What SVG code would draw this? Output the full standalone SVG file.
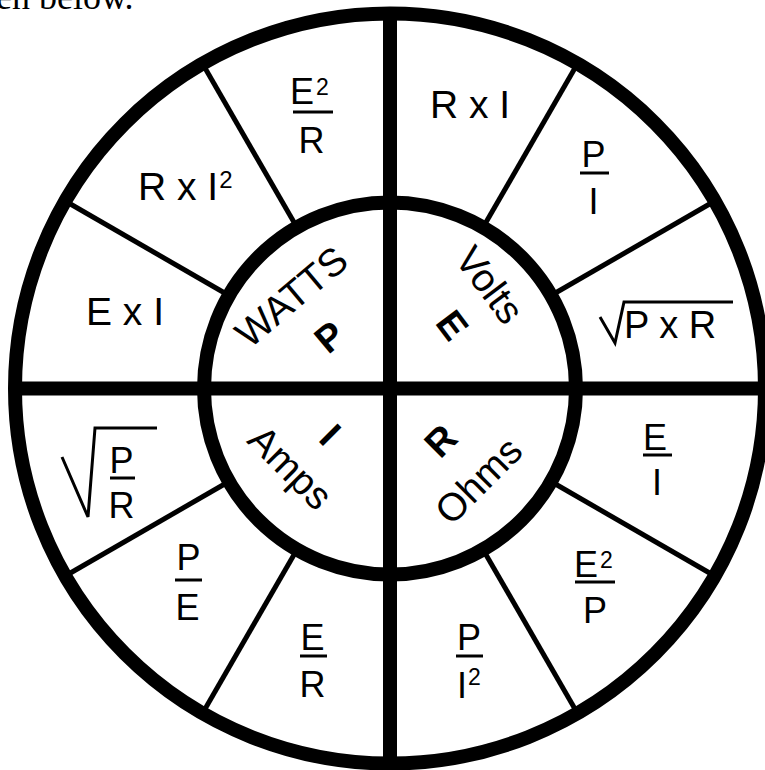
<svg xmlns="http://www.w3.org/2000/svg" width="765" height="770" viewBox="0 0 765 770">
<style>
.t{font-family:"Liberation Sans",Arial,sans-serif;fill:#000}
.f{font-size:36px;text-anchor:middle}
.b{font-weight:bold;font-size:38px;text-anchor:middle}
.l{font-size:39px;text-anchor:middle}
.thick{stroke:#000;stroke-width:14;fill:none}
.thin{stroke:#000;stroke-width:5;fill:none}
.bar{stroke:#000;stroke-width:3;fill:none}
</style>
<rect width="765" height="770" fill="#fff"/>
<text x="-4" y="9" style="font-family:'Liberation Serif','Times New Roman',serif;font-size:36px">en below.</text>
<g id="connectors">
<line class="thin" x1="554.5" y1="293.5" x2="712.2" y2="202.5"/>
<line class="thin" x1="485" y1="224" x2="576" y2="66.3"/>
<line class="thin" x1="295" y1="224" x2="204" y2="66.3"/>
<line class="thin" x1="225.5" y1="293.5" x2="67.8" y2="202.5"/>
<line class="thin" x1="225.5" y1="483.5" x2="67.8" y2="574.5"/>
<line class="thin" x1="295" y1="553" x2="204" y2="710.7"/>
<line class="thin" x1="485" y1="553" x2="576" y2="710.7"/>
<line class="thin" x1="554.5" y1="483.5" x2="712.2" y2="574.5"/>
<line class="thick" x1="390" y1="7" x2="390" y2="770"/>
<line class="thick" x1="9" y1="388.5" x2="765" y2="388.5"/>
</g>
<g id="outer-ring"><circle class="thick" cx="390" cy="388.5" r="375"/></g>
<g id="inner-ring"><circle class="thick" cx="390" cy="388.5" r="186"/></g>

<g id="watts">
<text class="t l" transform="translate(300,307) rotate(-40)">WATTS</text>
<text class="t b" transform="translate(338,347) rotate(-40)">P</text>
</g>
<g id="volts">
<text class="t l" transform="translate(479,293) rotate(53)">Volts</text>
<text class="t b" transform="translate(442,333) rotate(53)">E</text>
</g>
<g id="amps">
<text class="t l" transform="translate(281,477) rotate(45)">Amps</text>
<text class="t b" transform="translate(321,444) rotate(45)">I</text>
</g>
<g id="ohms">
<text class="t l" transform="translate(488,490) rotate(-45)">Ohms</text>
<text class="t b" transform="translate(450,450) rotate(-45)">R</text>
</g>

<g id="p-exi"><text class="t l" x="125" y="325">E x I</text></g>
<g id="p-rxi2"><text class="t" x="138" y="200" style="font-size:39px">R x I<tspan dx="1" dy="-12" font-size="24">2</tspan></text></g>
<g id="p-e2r">
<text class="t" x="290" y="104" style="font-size:36px">E<tspan dx="2" dy="-9" font-size="23">2</tspan></text>
<line class="bar" x1="293" y1="112" x2="333" y2="112"/>
<text class="t f" x="311.5" y="153">R</text>
</g>
<g id="e-rxi"><text class="t l" x="470" y="118">R x I</text></g>
<g id="e-pi">
<text class="t f" x="593.5" y="167">P</text>
<line class="bar" x1="580" y1="173" x2="609" y2="173"/>
<text class="t f" x="593.5" y="214">I</text>
</g>
<g id="e-sqrtpr">
<polyline class="bar" points="600,317 615,343 624,302 733,302"/>
<text class="t" x="624" y="338" style="font-size:38px">P x R</text>
</g>
<g id="r-ei">
<text class="t f" x="655" y="450">E</text>
<line class="bar" x1="643" y1="455" x2="672" y2="455"/>
<text class="t f" x="657" y="495">I</text>
</g>
<g id="r-e2p">
<text class="t" x="574" y="577" style="font-size:36px">E<tspan dx="2" dy="-9" font-size="23">2</tspan></text>
<line class="bar" x1="575" y1="582" x2="615" y2="582"/>
<text class="t f" x="595" y="623">P</text>
</g>
<g id="r-pi2">
<text class="t f" x="469" y="650">P</text>
<line class="bar" x1="456" y1="656" x2="483" y2="656"/>
<text class="t" x="457" y="698" style="font-size:36px">I<tspan dx="1" dy="-13" font-size="23">2</tspan></text>
</g>
<g id="i-sqrtpr">
<polyline class="bar" points="62,457 88,517 95,428 157,428"/>
<text class="t f" x="121.5" y="473">P</text>
<line class="bar" x1="110" y1="478" x2="135" y2="478"/>
<text class="t f" x="121.5" y="518">R</text>
</g>
<g id="i-pe">
<text class="t f" x="188.5" y="570">P</text>
<line class="bar" x1="175" y1="580" x2="202" y2="580"/>
<text class="t f" x="187.5" y="620">E</text>
</g>
<g id="i-er">
<text class="t f" x="312.5" y="650">E</text>
<line class="bar" x1="300" y1="656" x2="327" y2="656"/>
<text class="t f" x="312.5" y="697">R</text>
</g>
</svg>
